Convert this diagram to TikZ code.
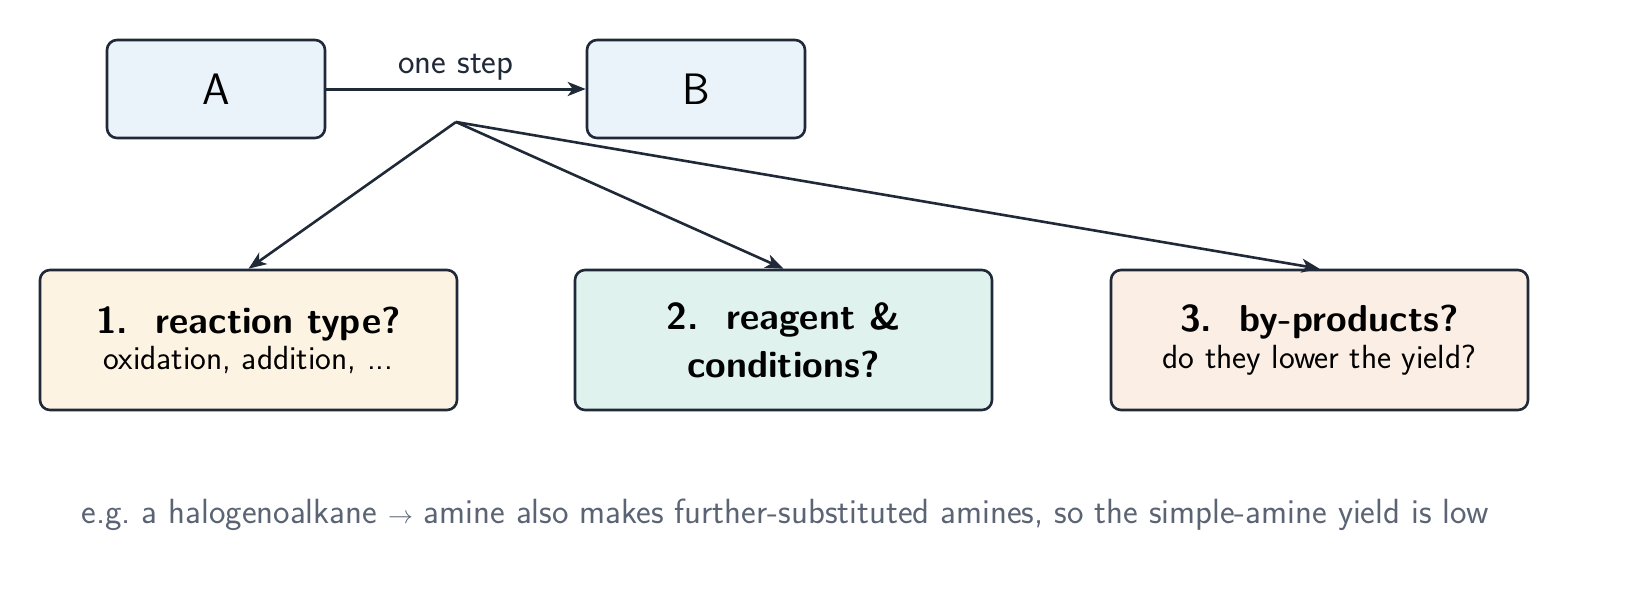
\documentclass[tikz,border=0pt]{standalone}
\usetikzlibrary{arrows.meta}
\definecolor{ink}{HTML}{1F2937}
\definecolor{fab}{HTML}{EAF2FA}
\definecolor{f1}{HTML}{FDF3E2}
\definecolor{f2}{HTML}{E0F2EE}
\definecolor{f3}{HTML}{FBEEE4}
\definecolor{cap}{HTML}{5B6475}
\begin{document}
\begin{tikzpicture}[x=1pt,y=-1pt,
  box/.style={draw=ink,line width=2.6pt,rounded corners=10pt,inner sep=0pt,align=center,font=\sffamily},
  arr/.style={draw=ink,line width=3pt,-{Stealth[length=18pt,width=14pt,inset=5pt]}},
  arr2/.style={draw=ink,line width=2.6pt,-{Stealth[length=18pt,width=14pt,inset=5pt]}}]
\useasboundingbox (0,0) rectangle (1627,603);
\node[box,fill=fab,minimum width=218pt,minimum height=98pt,font=\sffamily\fontsize{44}{50}\selectfont] (A) at (216,89) {A};
\node[box,fill=fab,minimum width=218pt,minimum height=98pt,font=\sffamily\fontsize{44}{50}\selectfont] (B) at (696,89) {B};
\draw[arr] (A.east) -- node[above=4pt,font=\sffamily\fontsize{35}{40}\selectfont,text=ink]{one step} (B.west);
\coordinate (F) at (456,122);
\node[box,fill=f1,minimum width=417pt,minimum height=140pt] (N1) at (248.5,340) {{\bfseries\fontsize{37.5}{44}\selectfont 1.\ \ reaction type?}\\[4pt]{\fontsize{33.5}{40}\selectfont oxidation, addition, ...}};
\node[box,fill=f2,minimum width=417pt,minimum height=140pt,font=\sffamily\bfseries\fontsize{37.5}{48}\selectfont] (N2) at (783.5,340) {2.\ \ reagent \&\\ conditions?};
\node[box,fill=f3,minimum width=417pt,minimum height=140pt] (N3) at (1319.5,340) {{\bfseries\fontsize{37.5}{44}\selectfont 3.\ \ by-products?}\\[4pt]{\fontsize{33.5}{40}\selectfont do they lower the yield?}};
\draw[arr2] (F) -- (N1.north);
\draw[arr2] (F) -- (N2.north);
\draw[arr2] (F) -- (N3.north);
\node[font=\sffamily\fontsize{35}{42}\selectfont,text=cap] (C) at (785,515) {e.g.\ a halogenoalkane $\rightarrow$ amine also makes further-substituted amines, so the simple-amine yield is low};
\end{tikzpicture}
\end{document}
